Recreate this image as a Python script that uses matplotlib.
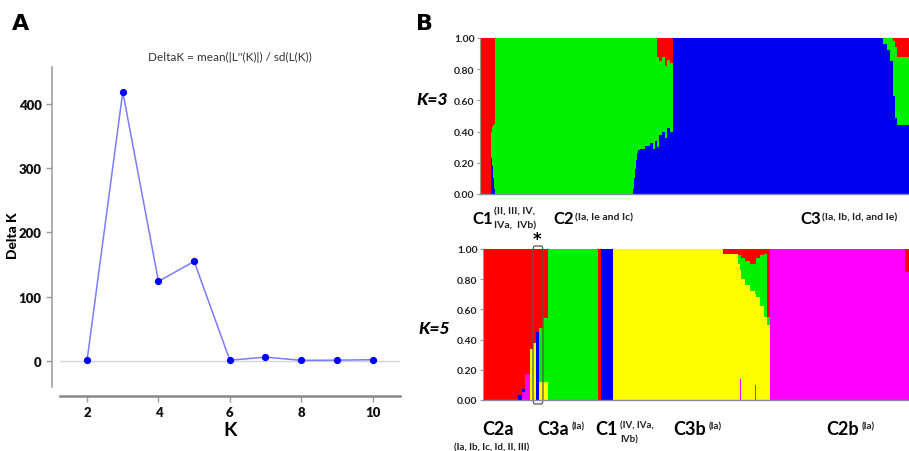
import matplotlib
matplotlib.use("Agg")
import matplotlib.pyplot as plt
from matplotlib.patches import FancyBboxPatch
import numpy as np

W, H = 909, 452
plt.rcParams["font.family"] = ["Lato", "DejaVu Sans"]

# ── Panel A: Delta K per K ───────────────────────────────────────────────────
K_VALUES = [2, 3, 4, 5, 6, 7, 8, 9, 10]
DELTA_K = [1.5, 419, 124, 155, 1.2, 6, 1.0, 1.3, 2.0]

# ── Panel B: admixture proportions, run-length coded (width in individuals) ──
K3_WIDTHS = [11, 1, 1, 1, 1, 138, 1, 1, 1, 1, 1, 2, 5, 5, 3, 2, 2,
             2, 3, 3, 2, 3, 3, 210, 4, 3, 3, 2, 2, 12]
K3_RED = [1, 0.60, 0.57, 0.56, 0.55, 0, 0, 0, 0, 0, 0, 0, 0, 0, 0, 0, 0,
          0.12, 0.15, 0.12, 0.18, 0.14, 0.16, 0, 0, 0, 0, 0.02, 0.06, 0.12]
K3_GREEN = [0, 0.17, 0.25, 0.34, 0.42, 1, 0.97, 0.90, 0.84, 0.78, 0.74, 0.72,
            0.71, 0.69, 0.67, 0.71, 0.66,
            0.58, 0.47, 0.48, 0.46, 0.44, 0.44, 0, 0.04, 0.08, 0.15, 0.35,
            0.45, 0.44]
K3_BLUE = [0, 0.23, 0.18, 0.10, 0.03, 0, 0.03, 0.10, 0.16, 0.22, 0.26, 0.28,
           0.29, 0.31, 0.33, 0.29, 0.34,
           0.30, 0.38, 0.40, 0.36, 0.42, 0.40, 1, 0.96, 0.92, 0.85, 0.63,
           0.49, 0.44]

K5_WIDTHS = [35, 4, 3, 5, 3, 3, 3, 4, 5, 50, 3, 12, 110, 15, 2, 1, 4, 5, 5,
             1, 4, 4, 3, 3, 135, 4]
K5_RED = [1, 0.97, 0.93, 0.83, 0.66, 0.62, 0.55, 0.52, 0.46, 0, 1, 0, 0,
          0.03, 0.04, 0.04, 0.06, 0.08, 0.10, 0.10, 0.06, 0.04, 0.03, 0.45,
          0, 0.15]
K5_GREEN = [0, 0, 0, 0, 0, 0, 0, 0.36, 0.42, 1, 0, 0, 0,
            0, 0.06, 0.10, 0.14, 0.16, 0.18, 0.20, 0.26, 0.34, 0.42, 0.05,
            0, 0]
K5_BLUE = [0, 0.03, 0.02, 0, 0, 0, 0.45, 0, 0, 0, 0, 1, 0,
           0, 0, 0, 0, 0, 0, 0, 0, 0, 0, 0, 0, 0]
K5_YELLOW = [0, 0, 0, 0, 0.34, 0.38, 0, 0.12, 0.12, 0, 0, 0, 1,
             0.97, 0.90, 0.72, 0.80, 0.76, 0.72, 0.60, 0.68, 0.62, 0.55,
             0.50, 0, 0]
K5_MAGENTA = [0, 0, 0.05, 0.17, 0, 0, 0, 0, 0, 0, 0, 0, 0,
              0, 0, 0.14, 0, 0, 0, 0.10, 0, 0, 0, 0, 1, 0.85]

RED, GREEN, BLUE, YELLOW, MAGENTA = "#ff0000", "#00f000", "#0000ee", "#ffff00", "#ff00ff"


def px_axes(fig, left, top, right, bottom):
    return fig.add_axes([left / W, 1 - bottom / H, (right - left) / W, (bottom - top) / H])


def ptext(fig, x, y, s, **kw):
    fig.text(x / W, 1 - y / H, s, **kw)


def stacked(ax, widths, layers):
    # step fills, one polygon per cluster, so no seams between individuals
    widths = np.asarray(widths, dtype=float)
    edges = np.concatenate([[0], np.cumsum(widths)])
    bottom = np.zeros(len(widths))
    for vals, col in layers:
        vals = np.asarray(vals, dtype=float)
        top = bottom + vals
        lo = np.append(bottom, bottom[-1])
        hi = np.append(top, top[-1])
        ax.fill_between(edges, lo, hi, step="post", color=col, lw=0)
        bottom = top
    ax.set_xlim(0, edges[-1])
    ax.set_ylim(0, 1)


def style_structure(ax):
    for s in ("top", "right"):
        ax.spines[s].set_visible(False)
    ax.spines["left"].set_color("#999999")
    ax.spines["bottom"].set_color("#8888aa")
    ax.spines["left"].set_linewidth(0.8)
    ax.spines["bottom"].set_linewidth(1.0)
    ax.set_xticks([])
    ax.set_yticks([0, 0.2, 0.4, 0.6, 0.8, 1.0])
    ax.set_yticklabels(["0.00", "0.20", "0.40", "0.60", "0.80", "1.00"])
    ax.tick_params(axis="y", length=2.5, width=0.8, color="#999999", pad=1.5,
                   labelsize=7.5, labelcolor="#222222")
    for lab in ax.get_yticklabels():
        lab.set_fontweight("bold")


fig = plt.figure(figsize=(W / 100, H / 100), dpi=100)

# ── A ────────────────────────────────────────────────────────────────────────
ax = px_axes(fig, 60, 68, 400, 397)
ax.axhline(0, color="#d4d4d4", lw=1)
ax.plot(K_VALUES, DELTA_K, "-", color="#7b7bff", lw=1.1)
ax.plot(K_VALUES, DELTA_K, "o", color="#0000ff", ms=4.2, mec="#0000ff")
ax.set_xlim(1.24, 10.77)
ax.set_ylim(-54.5, 457.6)
ax.spines["top"].set_visible(False)
ax.spines["right"].set_visible(False)
ax.spines["left"].set_position(("outward", 5.8))
ax.spines["left"].set_bounds(-40.5, 457.6)
ax.spines["left"].set_color("#999999")
ax.spines["left"].set_linewidth(1.1)
ax.spines["bottom"].set_color("#888888")
ax.spines["bottom"].set_linewidth(1.8)
ax.set_xticks([2, 4, 6, 8, 10])
ax.set_yticks([0, 100, 200, 300, 400])
ax.tick_params(axis="both", length=4, width=1, color="#999999", labelsize=9.5,
               labelcolor="#111111")
for lab in ax.get_xticklabels() + ax.get_yticklabels():
    lab.set_fontweight("heavy")
ax.set_xlabel("K", fontsize=14, fontweight="bold", labelpad=2)
ptext(fig, 13, 236, "Delta K", rotation=90, ha="center", va="center",
      fontsize=10, fontweight="black")
ptext(fig, 230, 57, "DeltaK = mean(|L''(K)|) / sd(L(K))", ha="center",
      va="center", fontsize=8.5, color="#333333")

# ── B, K=3 ───────────────────────────────────────────────────────────────────
ax3 = px_axes(fig, 480, 39, 909, 195)
stacked(ax3, K3_WIDTHS, [(K3_BLUE, BLUE), (K3_GREEN, GREEN), (K3_RED, RED)])
style_structure(ax3)

# ── B, K=5 ───────────────────────────────────────────────────────────────────
ax5 = px_axes(fig, 483, 250, 909, 401)
stacked(ax5, K5_WIDTHS, [(K5_MAGENTA, MAGENTA), (K5_BLUE, BLUE),
                         (K5_YELLOW, YELLOW), (K5_GREEN, GREEN), (K5_RED, RED)])
style_structure(ax5)
box = FancyBboxPatch((50, -0.026), 10, 1.046, boxstyle="round,pad=0,rounding_size=1.5",
                     fill=False, edgecolor="#555555", lw=0.9, clip_on=False,
                     mutation_aspect=0.03)
ax5.add_patch(box)

# panel letters
ptext(fig, 12, 24, "A", fontsize=16, fontweight="bold", va="center",
      family=["DejaVu Sans"])
ptext(fig, 416, 24, "B", fontsize=16, fontweight="bold", va="center",
      family=["DejaVu Sans"])
ptext(fig, 432, 100, "K=3", fontsize=12.5, fontweight="black", style="italic",
      ha="center", va="center")
ptext(fig, 434, 329, "K=5", fontsize=12.5, fontweight="black", style="italic",
      ha="center", va="center")

# cluster labels, K=3
big3 = dict(fontsize=12, fontweight="bold", va="center", ha="left")
small3 = dict(fontsize=7.5, fontweight="bold", va="center", ha="left", color="#222222")
ptext(fig, 472, 219, "C1", **big3)
ptext(fig, 494, 212, "(II, III, IV,", **small3)
ptext(fig, 494, 226, "IVa,  IVb)", **small3)
ptext(fig, 553, 219, "C2", **big3)
ptext(fig, 575, 218, "(Ia, Ie and Ic)", **small3)
ptext(fig, 800, 219, "C3", **big3)
ptext(fig, 822, 218, "(Ia, Ib, Id, and Ie)", **small3)

# cluster labels, K=5
big5 = dict(fontsize=13, fontweight="bold", va="center", ha="left")
small5 = dict(fontsize=7, fontweight="bold", va="center", ha="left", color="#222222")
ptext(fig, 537, 240, "*", fontsize=12, fontweight="bold", ha="center", va="center",
      family=["DejaVu Sans"])
ptext(fig, 482, 430, "C2a", **big5)
ptext(fig, 492, 448, "(Ia, Ib, Ic, Id, II, III)", fontsize=7, fontweight="bold",
      va="center", ha="center", color="#222222")
ptext(fig, 537, 430, "C3a", **big5)
ptext(fig, 572, 427, "(Ia)", **small5)
ptext(fig, 595, 430, "C1", **big5)
ptext(fig, 620, 426, "(IV, IVa,", **small5)
ptext(fig, 620, 440, "IVb)", **small5)
ptext(fig, 673, 430, "C3b", **big5)
ptext(fig, 709, 427, "(Ia)", **small5)
ptext(fig, 826, 430, "C2b", **big5)
ptext(fig, 862, 427, "(Ia)", **small5)

fig.savefig("out.png", dpi=100)
